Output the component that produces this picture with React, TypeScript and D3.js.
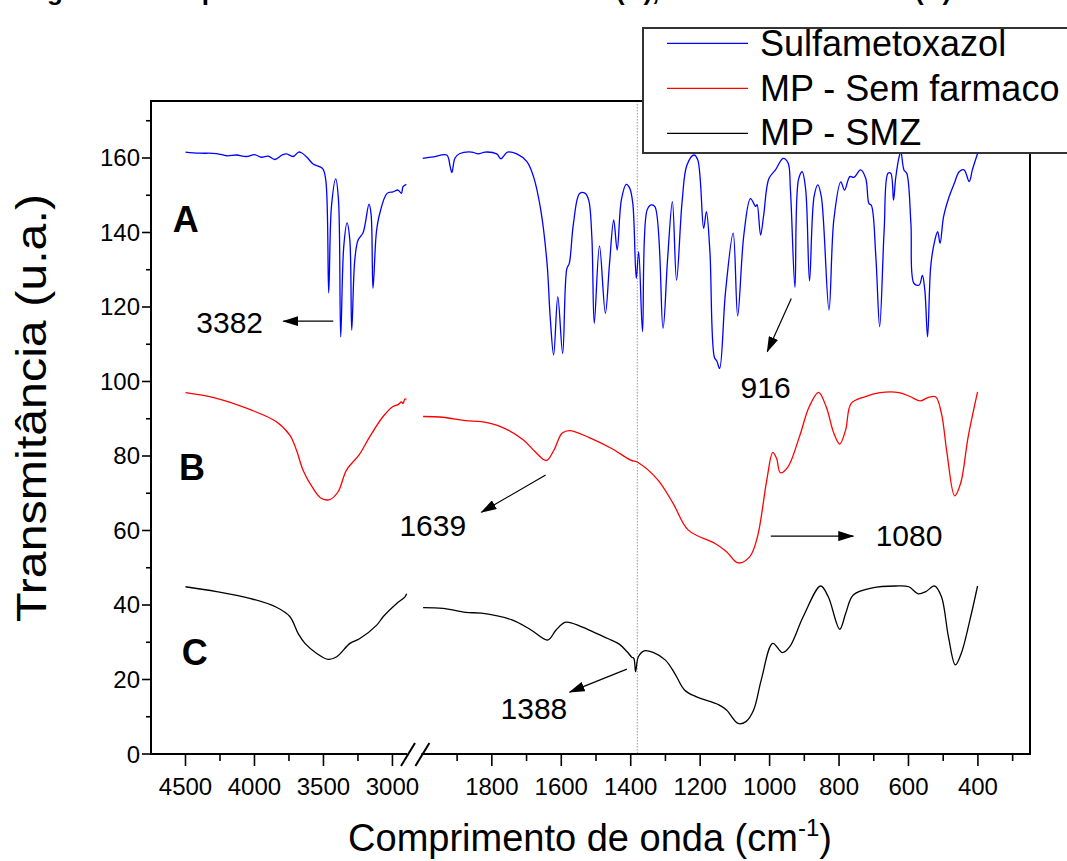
import React from 'react';
import * as d3 from 'd3';

// ---------- axis ticks ----------
const yTicks = [0, 20, 40, 60, 80, 100, 120, 140, 160];
const yMinorTicks = [10, 30, 50, 70, 90, 110, 130, 150, 170];
const xLeftTicks = [4500, 4000, 3500, 3000];
const xLeftMinor = [4250, 3750, 3250];
const xRightTicks = [1800, 1600, 1400, 1200, 1000, 800, 600, 400];
const xRightMinor = [1900, 1700, 1500, 1300, 1100, 900, 700, 500, 300];

// ---------- series ----------
const seriesNames = ['Sulfametoxazol', 'MP - Sem farmaco', 'MP - SMZ'];
const seriesColors = ['#0000ff', '#ff0000', '#000000'];

// [wavenumber cm-1, transmittance]
const sulfaHigh: [number, number][] = [
  [4500, 161.6], [4400, 161.3], [4275, 161.2], [4200, 160.6], [4130, 160.8], [4058, 160.4], [4000, 160.9],
  [3950, 160.2], [3900, 160.5], [3853, 159.6], [3800, 160.8], [3768, 161.1], [3720, 160.4], [3680, 161.6],
  [3659, 161.4], [3620, 160.2], [3575, 158.4], [3507, 157.2], [3483, 154], [3462, 123.8], [3442, 147],
  [3411, 154.4], [3391, 148.7], [3375, 112], [3353, 136.2], [3329, 142.6], [3309, 138], [3295, 113.8],
  [3273, 132.6], [3249, 138], [3213, 139.9], [3170, 147.6], [3155, 145], [3141, 125], [3116, 140.2],
  [3092, 145.1], [3039, 150.5], [2996, 150.9], [2959, 151.4], [2935, 150.5], [2923, 152.3], [2899, 152.9],
];
const sulfaLow: [number, number][] = [
  [1999, 159.9], [1969, 160.3], [1930, 160.8], [1920, 157.7], [1915, 156.1], [1906, 160], [1892, 161.2],
  [1858, 161.6], [1839, 161.1], [1819, 161.6], [1786, 161.1], [1774, 159.8], [1755, 161.6], [1728, 161.1],
  [1699, 159], [1680, 155], [1659, 146], [1641, 131.7], [1632, 117.4], [1622, 107.1], [1610, 122.8],
  [1596, 107.5], [1584, 130.3], [1577, 131.7], [1565, 142.4], [1547, 150.5], [1531, 150.5], [1521, 148.7],
  [1512, 138.9], [1505, 115.6], [1490, 136.4], [1473, 118.3], [1461, 131.7], [1449, 143.4], [1439, 135.3],
  [1427, 148.7], [1413, 152.9], [1403, 151.9], [1394, 147.8], [1384, 127.7], [1377, 134.8], [1366, 113.4],
  [1353, 146], [1341, 147.4], [1330, 146.9], [1307, 114.3], [1294, 132.6], [1280, 148.3], [1268, 127.2],
  [1252, 148.3], [1238, 158.1], [1218, 160.8], [1207, 159.5], [1190, 141.1], [1182, 145.6], [1172, 135],
  [1159, 106.5], [1152, 105.5], [1144, 103.5], [1127, 124], [1105, 139.8], [1092, 117.6], [1074, 139.5],
  [1055, 149.1], [1040, 147], [1036, 147.5], [1026, 139.3], [1017, 144.7], [1002, 154.5], [983, 156.8],
  [961, 159.9], [947, 158.7], [940, 151.4], [927, 125.3], [917, 154.1], [906, 156.3], [896, 151.4],
  [885, 127], [872, 149.6], [861, 152.8], [851, 149.6], [829, 119.2], [815, 143.4], [795, 153.6],
  [784, 151.4], [769, 155], [757, 154.8], [738, 156.8], [723, 154.5], [714, 147.8], [707, 147.3],
  [694, 133.5], [683, 114.7], [670, 140.7], [659, 155.9], [651, 155.9], [643, 148.7], [637, 154.5],
  [627, 160.3], [622, 161.7], [613, 156.8], [605, 155.9], [593, 142.4], [584, 126.3], [569, 125.9],
  [560, 128.5], [553, 124.6], [545, 112], [536, 130.8], [526, 137.1], [516, 140.2], [509, 137.1],
  [499, 144.2], [483, 149.6], [468, 153.2], [454, 156.3], [440, 156.8], [425, 153.7], [416, 156.8],
  [401, 161.2],
];
const mpHigh: [number, number][] = [
  [4500, 97], [4275, 95.5], [4034, 92.5], [3841, 89.2], [3744, 85.6], [3696, 81.6], [3648, 76.2],
  [3575, 71.3], [3514, 68.6], [3454, 68.3], [3394, 70.4], [3333, 76.2], [3242, 80.3], [3164, 85.2],
  [3068, 90.6], [2996, 93.3], [2959, 93.8], [2935, 94.5], [2923, 94.1], [2910, 95.3], [2899, 95.2],
];
const mpLow: [number, number][] = [
  [1998, 90.6], [1941, 90.4], [1875, 89.5], [1830, 89.2], [1775, 87.9], [1709, 84.3], [1676, 81.2],
  [1643, 78.8], [1621, 81.6], [1598, 86.1], [1576, 86.8], [1521, 85], [1455, 82], [1400, 78.9],
  [1378, 78.2], [1322, 73.6], [1278, 67.3], [1234, 60.1], [1157, 56.5], [1124, 54.3], [1091, 51.3],
  [1057, 53], [1035, 58.3], [1008, 73.6], [991, 80.9], [980, 79.4], [969, 75.5], [947, 77.1],
  [914, 85.2], [886, 93.2], [859, 97.1], [837, 93.2], [815, 86.1], [798, 83.2], [781, 87],
  [765, 94.1], [726, 95.9], [682, 97], [627, 97], [594, 95.9], [566, 94.8], [544, 95.7],
  [522, 95.9], [505, 91.4], [489, 80.7], [467, 69.3], [450, 72.6], [428, 85.2], [401, 97.2],
];
const smzHigh: [number, number][] = [
  [4500, 44.9], [4275, 43.6], [4034, 41.8], [3841, 39.4], [3744, 36.9], [3683, 32.3], [3634, 29.7],
  [3549, 27], [3465, 25.4], [3404, 26.1], [3308, 29.7], [3236, 31], [3114, 34.6], [3066, 36.9],
  [2969, 40.4], [2909, 42.2], [2897, 43],
];
const smzLow: [number, number][] = [
  [1998, 39.3], [1941, 39.1], [1875, 38], [1830, 37.8], [1742, 36], [1687, 33.3], [1639, 30.6],
  [1615, 33.3], [1587, 35.4], [1543, 34.2], [1499, 32.4], [1466, 31], [1433, 29.5], [1411, 27.5],
  [1397, 26], [1391, 25.7], [1386, 22.1], [1378, 26.1], [1361, 27.7], [1334, 27.2], [1300, 25.2],
  [1273, 21.6], [1245, 17.2], [1212, 15.4], [1146, 13.2], [1124, 11.8], [1091, 8.2], [1068, 8.7],
  [1046, 11.8], [1024, 19.9], [991, 29.7], [963, 27.2], [942, 28.8], [903, 36.9], [853, 45.1],
  [831, 42.2], [798, 33.5], [781, 37.7], [759, 42.7], [704, 44.6], [638, 45.1], [599, 44.9],
  [572, 43], [550, 43.6], [525, 45.1], [505, 42.2], [485, 31.5], [465, 23.9], [448, 27],
  [423, 36], [401, 45.1],
];

// ---------- annotations (data coordinates) ----------
const curveLabels = [
  { text: 'A', wn: 4593, t: 140.2 },
  { text: 'B', wn: 4547, t: 73.6 },
  { text: 'C', wn: 4528, t: 23.9 },
];
const bandArrows = [
  { label: '3382', seg: 'L', from: [3429, 116.2], to: [3791, 116.2], at: [3938, 113], anchor: 'end' },
  { label: '916', seg: 'R', from: [937.5, 122.3], to: [1006.7, 108], at: [1011.6, 95.6], anchor: 'middle' },
  { label: '1639', seg: 'R', from: [1645, 74.9], to: [1830, 64.9], at: [1874, 58.5], anchor: 'end' },
  { label: '1080', seg: 'R', from: [996.6, 58.5], to: [759, 58.5], at: [694.6, 55.8], anchor: 'start' },
  { label: '1388', seg: 'R', from: [1411, 22.8], to: [1576, 16.6], at: [1775, 9.4], anchor: 'start' },
];
const markerWavenumber = 1381;

const FONT = '"Liberation Sans", Arial, sans-serif';

export default function App() {
  const W = 1067, H = 861;
  const left = 151, right = 1030, top = 101, bottom = 754;
  const xL = d3.scaleLinear().domain([4750, 2880]).range([left, 409]);
  const xR = d3.scaleLinear().domain([2000, 250]).range([422.4, right]);
  const y = d3.scaleLinear().domain([0, 175.3]).range([bottom, top]);

  const mkLine = (xs: d3.ScaleLinear<number, number>) =>
    d3.line<[number, number]>().x(d => xs(d[0])).y(d => y(d[1])).curve(d3.curveCatmullRom.alpha(0.5));
  const lineL = mkLine(xL);
  const lineR = mkLine(xR);

  const segments = [
    { hi: sulfaHigh, lo: sulfaLow, c: seriesColors[0] },
    { hi: mpHigh, lo: mpLow, c: seriesColors[1] },
    { hi: smzHigh, lo: smzLow, c: seriesColors[2] },
  ];

  const xOf = (seg: string, v: number) => (seg === 'L' ? xL(v) : xR(v));
  const breakL = xL.range()[1];
  const breakR = xR.range()[0];

  return (
    <svg width={W} height={H} style={{ position: 'absolute', left: 0, top: 0, display: 'block', background: '#fff' }}
      fontFamily={FONT}>
      <defs>
        <marker id="arr" markerUnits="userSpaceOnUse" markerWidth={16} markerHeight={10} refX={15} refY={5} orient="auto">
          <path d="M0,0 L16,5 L0,10 Z" fill="#000" />
        </marker>
      </defs>
      <rect x={0} y={0} width={W} height={H} fill="#fff" />

      {/* caption cut off at the top edge, as in the reference */}
      <text y={0} fontSize={26} fontWeight="bold" fill="#000">
        <tspan x={24}>Figura 4 -</tspan>
        <tspan x={170}>Espectro de FTIR do sulfametoxazol</tspan>
        <tspan x={616}>(A), membrana</tspan>
        <tspan x={915}>(B)</tspan>
      </text>

      {/* dotted marker */}
      <line x1={xR(markerWavenumber)} x2={xR(markerWavenumber)} y1={top} y2={bottom}
        stroke="#999" strokeWidth={1} strokeDasharray="1.5,1.5" />

      {/* curves */}
      {segments.map((s, i) => (
        <g key={i} fill="none" stroke={s.c} strokeWidth={1.3}>
          <path d={lineL(s.hi) || ''} />
          <path d={lineR(s.lo) || ''} />
        </g>
      ))}

      {/* frame */}
      <g stroke="#000" strokeWidth={2} fill="none">
        <line x1={left} x2={right} y1={top} y2={top} />
        <line x1={right} x2={right} y1={top} y2={bottom} />
        <line x1={left} x2={left} y1={top - 1} y2={bottom + 1} />
        <line x1={left} x2={breakL - 2} y1={bottom} y2={bottom} />
        <line x1={breakR - 1} x2={right + 1} y1={bottom} y2={bottom} />
        <line x1={breakL - 8} x2={breakL + 6} y1={bottom + 12} y2={bottom - 11} strokeWidth={2} />
        <line x1={breakR - 7} x2={breakR + 7} y1={bottom + 12} y2={bottom - 11} strokeWidth={2} />
      </g>

      {/* ticks */}
      <g stroke="#000" strokeWidth={1.6}>
        {yTicks.map(t => <line key={'y' + t} x1={left - 9} x2={left} y1={y(t)} y2={y(t)} />)}
        {yMinorTicks.map(t => <line key={'ym' + t} x1={left - 5} x2={left} y1={y(t)} y2={y(t)} />)}
        {xLeftTicks.map(t => <line key={'xl' + t} x1={xL(t)} x2={xL(t)} y1={bottom} y2={bottom + 12} />)}
        {xLeftMinor.map(t => <line key={'xlm' + t} x1={xL(t)} x2={xL(t)} y1={bottom} y2={bottom + 7} />)}
        {xRightTicks.map(t => <line key={'xr' + t} x1={xR(t)} x2={xR(t)} y1={bottom} y2={bottom + 12} />)}
        {xRightMinor.map(t => <line key={'xrm' + t} x1={xR(t)} x2={xR(t)} y1={bottom} y2={bottom + 7} />)}
      </g>
      <g fontSize={24} fill="#000">
        {yTicks.map(t => (
          <text key={'yl' + t} x={left - 11} y={y(t) + 8.5} textAnchor="end">{t}</text>
        ))}
        {xLeftTicks.map(t => (
          <text key={'xll' + t} x={xL(t)} y={795} textAnchor="middle">{t}</text>
        ))}
        {xRightTicks.map(t => (
          <text key={'xrl' + t} x={xR(t)} y={795} textAnchor="middle">{t}</text>
        ))}
      </g>

      {/* axis titles */}
      <text x={590} y={851} fontSize={38} textAnchor="middle" fill="#000">
        Comprimento de onda (cm<tspan dy={-15} fontSize={24}>-1</tspan><tspan dy={15}>)</tspan>
      </text>
      <text transform="translate(46,408) rotate(-90)" fontSize={42} textAnchor="middle" fill="#000"
        textLength={428} lengthAdjust="spacingAndGlyphs">Transmitância (u.a.)</text>

      {/* curve letters */}
      {curveLabels.map(l => (
        <text key={l.text} x={xL(l.wn)} y={y(l.t)} fontSize={36} fontWeight="bold" fill="#000">{l.text}</text>
      ))}

      {/* band annotations */}
      {bandArrows.map(a => (
        <g key={a.label}>
          <line x1={xOf(a.seg, a.from[0])} y1={y(a.from[1])} x2={xOf(a.seg, a.to[0])} y2={y(a.to[1])}
            stroke="#000" strokeWidth={1.2} markerEnd="url(#arr)" />
          <text x={xOf(a.seg, a.at[0])} y={y(a.at[1])} fontSize={30} textAnchor={a.anchor as any} fill="#000">{a.label}</text>
        </g>
      ))}

      {/* legend */}
      <g>
        <rect x={643} y={28} width={440} height={125} fill="#fff" stroke="#333" strokeWidth={2} />
        {seriesNames.map((n, i) => (
          <g key={n}>
            <line x1={667} x2={748} y1={43.3 + i * 45} y2={43.3 + i * 45} stroke={seriesColors[i]} strokeWidth={1.2} />
            <text x={760} y={56 + i * 44.5} fontSize={36} fill="#000">{n}</text>
          </g>
        ))}
      </g>
    </svg>
  );
}
